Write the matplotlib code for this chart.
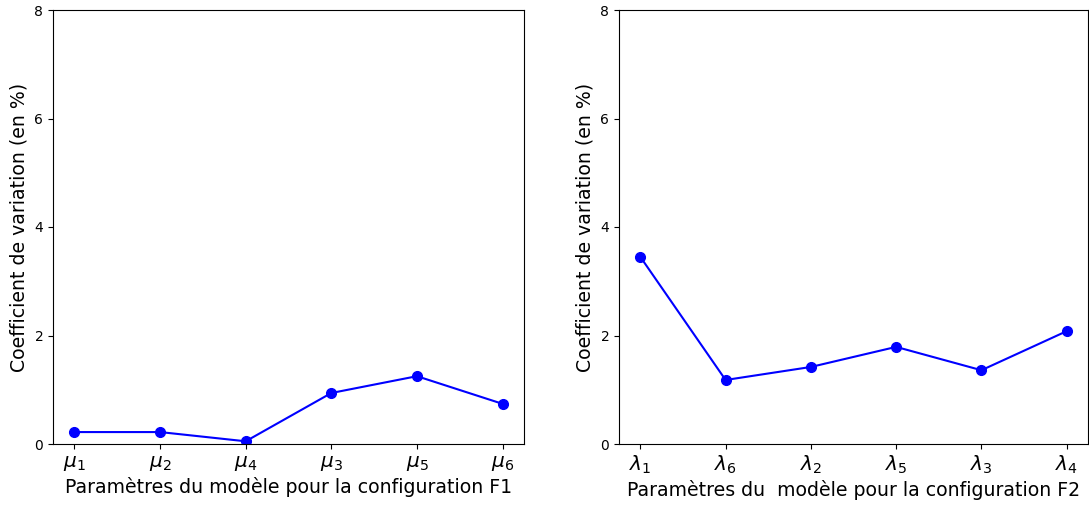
import matplotlib.pyplot as plt

# valeurs
params_f1 = [r'$\mu_1$', r'$\mu_2$', r'$\mu_4$', r'$\mu_3$', r'$\mu_5$', r'$\mu_6$']
cv_f1 = [0.22, 0.22, 0.05, 0.94, 1.25, 0.74]

params_f2 = [r'$\lambda_1$', r'$\lambda_6$', r'$\lambda_2$', r'$\lambda_5$', r'$\lambda_3$', r'$\lambda_4$']
cv_f2 = [3.45, 1.18, 1.42, 1.79, 1.36, 2.08]

fig = plt.figure(figsize=(10.89, 5.07), dpi=100)
ax1 = fig.add_axes([53 / 1089, 63 / 507, 471 / 1089, 434 / 507])
ax2 = fig.add_axes([619 / 1089, 63 / 507, 469 / 1089, 434 / 507])

for ax, params, cv, xlab in [(ax1, params_f1, cv_f1, 'Paramètres du modèle pour la configuration F1'),
                             (ax2, params_f2, cv_f2, 'Paramètres du  modèle pour la configuration F2')]:
    x = list(range(len(params)))
    ax.plot(x, cv, color='blue', marker='o', markersize=7, linewidth=1.5)
    ax.set_ylim(0, 8)
    ax.set_yticks([0, 2, 4, 6, 8])
    ax.set_xticks(x)
    ax.set_xticklabels(params, fontsize=14.5)
    ax.tick_params(axis='y', labelsize=10)
    ax.set_xlabel(xlab, fontsize=13.6, labelpad=3)
    ax.set_ylabel('Coefficient de variation (en %)', fontsize=13.6)

plt.savefig('out.png', dpi=100)
